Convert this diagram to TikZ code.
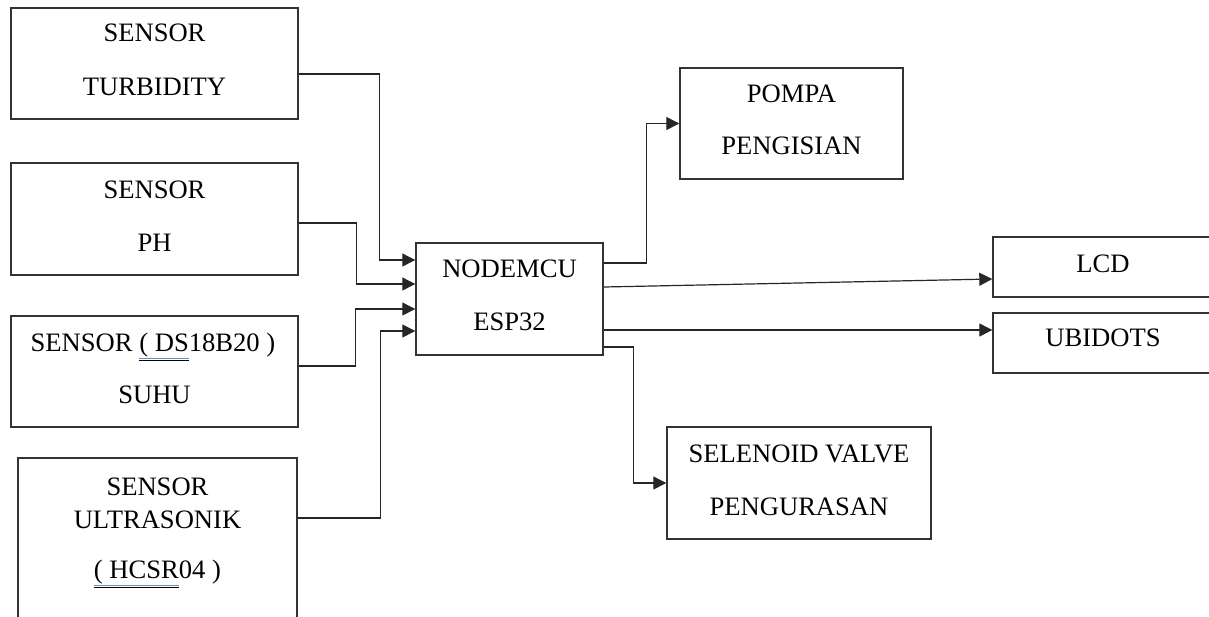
\documentclass[tikz,border=0pt]{standalone}
\usepackage{fontspec}
\setmainfont{Liberation Serif}
\usetikzlibrary{arrows.meta}
\definecolor{spell}{HTML}{5B8FD0}
\newcommand\spl[1]{\setbox0=\hbox{#1}\rlap{\textcolor{spell}{\rule[-3.4pt]{\wd0}{0.5pt}}}\rlap{\textcolor{spell}{\rule[-4.6pt]{\wd0}{0.5pt}}}\underline{\box0}}
\begin{document}
\begin{tikzpicture}[x=0.5pt,y=-0.5pt,
  blk/.style={draw=black!80,line width=0.7pt,inner sep=0pt,minimum width=#1},
  blk/.default=287pt,
  txt/.style={anchor=base,inner sep=0pt,font=\fontsize{13.3}{16}\selectfont},
  arr/.style={draw=black!85,line width=0.6pt,-{Triangle[length=6.5pt,width=6.5pt]}}]
\useasboundingbox (0,0) rectangle (1209,616);
\clip (0,0) rectangle (1209,616);
% boxes
\node[blk=143.5pt,minimum height=55.5pt] (b1) at (154.5,63.5) {};
\node[blk=143.5pt,minimum height=56pt] (b2) at (154.5,219) {};
\node[blk=143.5pt,minimum height=55.5pt] (b3) at (154.5,371.5) {};
\node[blk=139.5pt,minimum height=91pt] (b4) at (157.5,549) {};
\node[blk=93.5pt,minimum height=56pt] (mcu) at (509.5,299) {};
\node[blk=111.5pt,minimum height=55.5pt] (pompa) at (791.5,123.5) {};
\node[blk=110pt,minimum height=30pt] (lcd) at (1103,267) {};
\node[blk=110pt,minimum height=30pt] (ubi) at (1103,343) {};
\node[blk=132pt,minimum height=56pt] (sel) at (799,483) {};
% texts
\node[txt] (t1a) at (154.5,41.7) {SENSOR};
\node[txt] (t1b) at (154.5,95.7) {TURBIDITY};
\node[txt] (t2a) at (154.5,198.7) {SENSOR};
\node[txt] (t2b) at (154.5,251.7) {PH};
\node[txt] (t3a) at (153,351.7) {SENSOR \spl{( DS}18B20 )};
\node[txt] (t3b) at (154.5,403.7) {SUHU};
\node[txt] (t4a) at (157.5,495.7) {SENSOR};
\node[txt] (t4b) at (157.5,528.7) {ULTRASONIK};
\node[txt] (t4c) at (157.5,578.7) {\spl{( HCSR}04 )};
\node[txt] (tma) at (509.5,277.7) {NODEMCU};
\node[txt] (tmb) at (509.5,330.7) {ESP32};
\node[txt] (tpa) at (791.5,102.7) {POMPA};
\node[txt] (tpb) at (791.5,154.7) {PENGISIAN};
\node[txt] (tl) at (1103,272.7) {LCD};
\node[txt] (tu) at (1103,346.7) {UBIDOTS};
\node[txt] (tsa) at (799,462.7) {SELENOID VALVE};
\node[txt] (tsb) at (799,515.7) {PENGURASAN};
% inputs
\draw[arr] ([yshift=-5.25pt]b1.east) -- ++(81,0) |- ([yshift=19.5pt]mcu.west);
\draw[arr] ([yshift=-2pt]b2.east) -- ++(58,0) |- ([yshift=7.5pt]mcu.west);
\draw[arr] ([yshift=2.75pt]b3.east) -- ++(57,0) |- ([yshift=-5pt]mcu.west);
\draw[arr] ([yshift=15.5pt]b4.east) -- ++(83,0) |- ([yshift=-16pt]mcu.west);
% outputs
\draw[arr] ([yshift=18pt]mcu.east) -- ++(43,0) |- (pompa.west);
\draw[arr] ([yshift=6pt]mcu.east) -- ([yshift=-6pt]lcd.west);
\draw[arr] ([yshift=-15.5pt]mcu.east) -- ([yshift=6.5pt]ubi.west);
\draw[arr] ([yshift=-24pt]mcu.east) -- ++(30,0) |- (sel.west);
\end{tikzpicture}
\end{document}
